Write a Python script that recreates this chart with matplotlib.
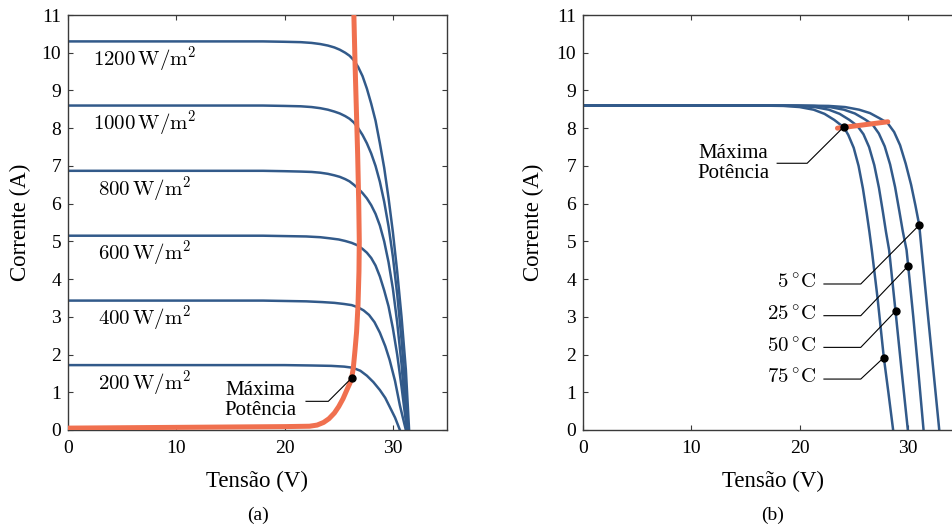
import numpy as np
import matplotlib
matplotlib.use('Agg')
from matplotlib import pyplot as plt

plt.rcParams['font.family'] = ['Liberation Serif', 'DejaVu Serif']
plt.rcParams['mathtext.fontset'] = 'cm'

###########################################################
# (a) irradiance curves
g1200_v = [0, 18, 20, 21.5, 22.5, 23.3, 24.0, 24.6, 25.1, 25.6, 26.0, 26.4, 26.8, 27.2, 27.6, 28.0, 28.4, 28.8, 29.2, 29.6, 30.0, 30.4, 30.8, 31.2, 31.5]
g1200_i = [10.3, 10.3, 10.29, 10.28, 10.26, 10.23, 10.19, 10.14, 10.08, 10.0, 9.92, 9.8, 9.62, 9.38, 9.05, 8.65, 8.2, 7.6, 6.95, 6.15, 5.25, 4.2, 3.0, 1.6, 0]
g1000_v = [0, 18, 20, 21.5, 22.5, 23.3, 24.0, 24.6, 25.1, 25.6, 26.0, 26.4, 26.8, 27.2, 27.6, 28.0, 28.4, 28.8, 29.2, 29.6, 30.0, 30.4, 30.8, 31.1, 31.4]
g1000_i = [8.6, 8.6, 8.59, 8.58, 8.56, 8.53, 8.49, 8.44, 8.39, 8.32, 8.25, 8.15, 8.0, 7.82, 7.6, 7.33, 7.0, 6.58, 6.05, 5.4, 4.6, 3.6, 2.4, 1.3, 0]
g800_v = [0, 18, 20, 21.5, 22.5, 23.3, 24.0, 24.6, 25.1, 25.6, 26.0, 26.4, 26.8, 27.2, 27.6, 28.0, 28.4, 28.8, 29.2, 29.6, 30.0, 30.4, 30.8, 31.3]
g800_i = [6.87, 6.87, 6.86, 6.85, 6.84, 6.82, 6.79, 6.75, 6.71, 6.65, 6.59, 6.5, 6.4, 6.28, 6.14, 5.96, 5.73, 5.42, 5.0, 4.45, 3.75, 2.85, 1.75, 0]
g600_v = [0, 18, 20, 22, 23.3, 24.2, 25.0, 25.6, 26.2, 26.7, 27.2, 27.6, 28.0, 28.4, 28.8, 29.2, 29.6, 30.0, 30.4, 30.8, 31.3]
g600_i = [5.15, 5.15, 5.14, 5.13, 5.11, 5.08, 5.05, 5.01, 4.96, 4.9, 4.8, 4.7, 4.56, 4.36, 4.07, 3.7, 3.28, 2.7, 2.0, 1.15, 0]
g400_v = [0, 18, 20, 22, 23.5, 24.6, 25.5, 26.2, 26.8, 27.3, 27.8, 28.3, 28.8, 29.3, 29.7, 30.2, 30.65, 31.2]
g400_i = [3.43, 3.43, 3.42, 3.41, 3.39, 3.37, 3.34, 3.31, 3.25, 3.17, 3.05, 2.86, 2.58, 2.22, 1.86, 1.3, 0.65, 0]
g200_v = [0, 20, 22.5, 24.3, 25.5, 26.3, 27.0, 27.6, 28.2, 28.8, 29.3, 29.7, 30.2, 30.65]
g200_i = [1.72, 1.72, 1.71, 1.7, 1.68, 1.65, 1.57, 1.44, 1.27, 1.06, 0.85, 0.62, 0.33, 0]

irr_labels = ['1200', '1000', '800', '600', '400', '200']
irr_v = [g1200_v, g1000_v, g800_v, g600_v, g400_v, g200_v]
irr_i = [g1200_i, g1000_i, g800_i, g600_i, g400_i, g200_i]
irr_isc = [10.3, 8.6, 6.87, 5.15, 3.43, 1.72]

mpp_a_v = [0, 10, 20, 22.3, 23.0, 23.6, 24.1, 24.6, 25.0, 25.4, 25.75, 26.05, 26.2, 26.35, 26.5, 26.65, 26.78, 26.87, 26.9, 26.85, 26.75, 26.62, 26.5, 26.4]
mpp_a_i = [0.05, 0.07, 0.09, 0.1, 0.13, 0.2, 0.3, 0.45, 0.62, 0.83, 1.06, 1.25, 1.38, 1.65, 2.1, 2.6, 3.3, 4.2, 5.0, 6.0, 7.3, 8.6, 9.8, 11.0]
dot_a = (26.2, 1.38)

# (b) temperature curves
t5_v = [0, 20.2, 22.7, 24.2, 25.5, 26.5, 27.4, 28.12, 28.73, 29.28, 29.8, 30.3, 30.7, 31.05, 31.27, 31.8, 32.35, 32.9]
t5_i = [8.6, 8.6, 8.59, 8.56, 8.49, 8.4, 8.26, 8.14, 7.9, 7.55, 7.06, 6.5, 5.95, 5.43, 4.77, 3.2, 1.6, 0]
t25_v = [0, 18.8, 21.3, 22.8, 24.1, 25.1, 26.0, 26.73, 27.32, 27.86, 28.36, 28.82, 29.22, 29.53, 29.88, 30.03, 30.5, 31.0, 31.45]
t25_i = [8.6, 8.6, 8.59, 8.56, 8.49, 8.39, 8.24, 8.1, 7.86, 7.52, 7.04, 6.44, 5.79, 5.27, 4.77, 4.35, 3.0, 1.45, 0]
t50_v = [0, 17.4, 19.9, 21.4, 22.7, 23.7, 24.6, 25.34, 25.9, 26.42, 26.9, 27.33, 27.7, 27.98, 28.27, 28.86, 29.45, 30.0]
t50_i = [8.6, 8.6, 8.59, 8.56, 8.49, 8.38, 8.22, 8.06, 7.84, 7.5, 7.02, 6.42, 5.77, 5.25, 4.77, 3.15, 1.5, 0]
t75_v = [0, 16, 18.5, 20, 21.3, 22.3, 23.2, 24.1, 24.5, 25.0, 25.45, 25.85, 26.2, 26.45, 26.67, 27.2, 27.78, 28.2, 28.64]
t75_i = [8.6, 8.6, 8.59, 8.56, 8.49, 8.38, 8.22, 8.02, 7.82, 7.48, 7.0, 6.4, 5.75, 5.25, 4.77, 3.5, 1.92, 1.0, 0]

temp_labels = ['5', '25', '50', '75']
temp_v = [t5_v, t25_v, t50_v, t75_v]
temp_i = [t5_i, t25_i, t50_i, t75_i]
temp_dots = [(31.05, 5.43), (30.03, 4.35), (28.86, 3.15), (27.78, 1.92)]
temp_text_i = [3.87, 3.03, 2.19, 1.35]

mpp_b_v = [23.5, 28.15]
mpp_b_i = [8.0, 8.17]
dot_b = (24.1, 8.04)

blue = '#325a8a'
orange = '#f0704f'
spine_col = '#3a3a3a'

###########################################################

my_dpi = 100
fig = plt.figure(figsize=(952/my_dpi, 529/my_dpi), dpi=my_dpi)
axA = fig.add_axes([68/952, 1-430/529, 379/952, 415/529])
axB = fig.add_axes([583/952, 1-430/529, 379/952, 415/529])

for ax in [axA, axB]:
    ax.set_xlim(0, 35)
    ax.set_ylim(0, 11)
    ax.set_xticks([0, 10, 20, 30])
    ax.set_yticks(range(0, 12))
    ax.tick_params(direction='in', top=True, right=True, length=3.6, width=0.8,
                   color=spine_col, labelsize=14, pad=5)
    ax.tick_params(axis='x', pad=7)
    for s in ax.spines.values():
        s.set_color(spine_col)
        s.set_linewidth(1.0)
    ax.set_xlabel('Tensão (V)', fontsize=16.5)
    ax.set_ylabel('Corrente (A)', fontsize=16.5)
    ax.xaxis.set_label_coords(0.5, -0.098)

axA.yaxis.set_label_coords(-0.097, 0.5)
axB.yaxis.set_label_coords(-0.104, 0.5)
axA.text(0.5, -0.205, '(a)', transform=axA.transAxes, ha='center', va='center', fontsize=14)
axB.text(0.5, -0.205, '(b)', transform=axB.transAxes, ha='center', va='center', fontsize=14)

# panel (a)
for v, i, lab, isc in zip(irr_v, irr_i, irr_labels, irr_isc):
    axA.plot(v, i, color=blue, linewidth=1.8)
    axA.text(7.1, isc-0.48, r'$%s\,\mathrm{W/m^2}$' % lab, ha='center', va='center', fontsize=15)
axA.plot(mpp_a_v, mpp_a_i, color=orange, linewidth=3.6, solid_capstyle='butt', zorder=3)
axA.plot([21.98, 24.04, dot_a[0]], [0.76, 0.76, dot_a[1]], color='black', linewidth=0.8, zorder=4)
axA.plot(*dot_a, 'o', color='black', markersize=5, zorder=5)
axA.text(17.8, 0.79, 'Máxima\nPotência', ha='center', va='center', fontsize=15, linespacing=1.05)

# panel (b)
for v, i in zip(temp_v, temp_i):
    axB.plot(v, i, color=blue, linewidth=1.8)
axB.plot(mpp_b_v, mpp_b_i, color=orange, linewidth=3.6, solid_capstyle='round', zorder=3)
axB.plot([17.93, 20.7, dot_b[0]], [7.07, 7.07, dot_b[1]], color='black', linewidth=0.8, zorder=4)
axB.plot(*dot_b, 'o', color='black', markersize=5, zorder=5)
axB.text(13.9, 7.07, 'Máxima\nPotência', ha='center', va='center', fontsize=15, linespacing=1.05)
for lab, (dv, di), ti in zip(temp_labels, temp_dots, temp_text_i):
    axB.plot([22.25, 25.65, dv], [ti, ti, di], color='black', linewidth=0.8, zorder=4)
    axB.plot(dv, di, 'o', color='black', markersize=5, zorder=5)
    axB.text(21.5, ti, r'$%s\,^{\circ}\mathrm{C}$' % lab, ha='right', va='center', fontsize=15)

plt.savefig('out.png', dpi=my_dpi)
